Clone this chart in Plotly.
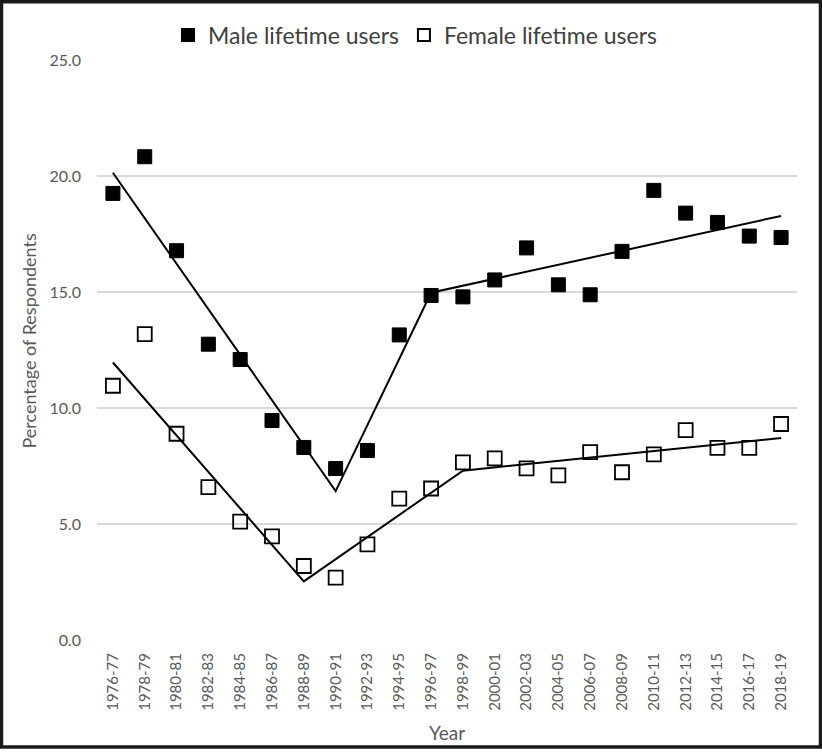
import plotly.graph_objects as go

years = ["1976-77", "1978-79", "1980-81", "1982-83", "1984-85", "1986-87", "1988-89",
         "1990-91", "1992-93", "1994-95", "1996-97", "1998-99", "2000-01", "2002-03",
         "2004-05", "2006-07", "2008-09", "2010-11", "2012-13", "2014-15", "2016-17", "2018-19"]

male = [19.25, 20.83, 16.78, 12.75, 12.09, 9.46, 8.30, 7.39, 8.17, 13.15, 14.85,
        14.79, 15.52, 16.90, 15.31, 14.88, 16.75, 19.38, 18.40, 18.00, 17.41, 17.35]
female = [10.96, 13.18, 8.89, 6.59, 5.10, 4.47, 3.19, 2.69, 4.12, 6.09, 6.53,
          7.66, 7.83, 7.40, 7.10, 8.10, 7.23, 8.00, 9.05, 8.28, 8.28, 9.31]

# joinpoint trend lines
male_trend_x = ["1976-77", "1990-91", "1996-97", "2018-19"]
male_trend_y = [20.14, 6.42, 14.97, 18.28]
female_trend_x = ["1976-77", "1988-89", "1998-99", "2018-19"]
female_trend_y = [11.96, 2.53, 7.30, 8.71]

FONT = "Lato"
GRAY = "#595959"

fig = go.Figure()
fig.add_trace(go.Scatter(x=male_trend_x, y=male_trend_y, mode="lines",
                         line=dict(color="black", width=2), showlegend=False, hoverinfo="skip"))
fig.add_trace(go.Scatter(x=female_trend_x, y=female_trend_y, mode="lines",
                         line=dict(color="black", width=2), showlegend=False, hoverinfo="skip"))
fig.add_trace(go.Scatter(x=years, y=male, mode="markers", name="Male lifetime users",
                         marker=dict(symbol="square", size=14, color="black",
                                     line=dict(color="black", width=1))))
fig.add_trace(go.Scatter(x=years, y=female, mode="markers", name="Female lifetime users",
                         marker=dict(symbol="square-open", size=14, color="black",
                                     line=dict(color="black", width=1.8))))

ml, mr, mt, mb = 97, 25, 60, 109
W, H = 822, 752
pw, ph = W - ml - mr, H - mt - mb

fig.update_layout(
    width=W, height=H,
    margin=dict(l=ml, r=mr, t=mt, b=mb),
    paper_bgcolor="white", plot_bgcolor="white",
    font=dict(family=FONT, color=GRAY, size=14),
    legend=dict(orientation="h", x=(415 - ml) / pw, xanchor="center", y=1.0 + 25 / ph,
                yanchor="middle", font=dict(size=23, color="#404040"),
                itemsizing="constant", bgcolor="rgba(0,0,0,0)"),
    xaxis=dict(type="category", categoryorder="array", categoryarray=years,
               tickangle=-90, showgrid=False, showline=False, ticks="",
               tickfont=dict(size=15, color=GRAY), ticklabelstandoff=9,
               title=dict(text="Year", font=dict(size=19, color=GRAY), standoff=16),
               range=[-0.5, len(years) - 0.5]),
    yaxis=dict(range=[0, 25], dtick=5, tickformat=".1f", showgrid=True,
               gridcolor="#d9d9d9", gridwidth=1.5, zeroline=False, showline=False,
               ticks="", tickfont=dict(size=16, color=GRAY), ticklabelstandoff=15),
    annotations=[dict(text="Percentage of Respondents", textangle=-90,
                      xref="paper", yref="paper",
                      x=(29 - ml) / pw, y=(ph + mt - 343) / ph,
                      xanchor="center", yanchor="middle", showarrow=False,
                      font=dict(size=18, color=GRAY, family=FONT))],
    shapes=[dict(type="rect", xref="paper", yref="paper",
                 x0=(1.5 - ml) / pw, x1=(W - 1.5 - ml) / pw,
                 y0=-(H - 1.5 - mt - ph) / ph, y1=(mt - 1.5) / ph + 1,
                 line=dict(color="#1a1a1a", width=3.5), layer="above")],
)

fig.write_html("out.html", config={"displayModeBar": False},
               post_script="document.body.style.margin='0';document.body.style.overflow='hidden';")
